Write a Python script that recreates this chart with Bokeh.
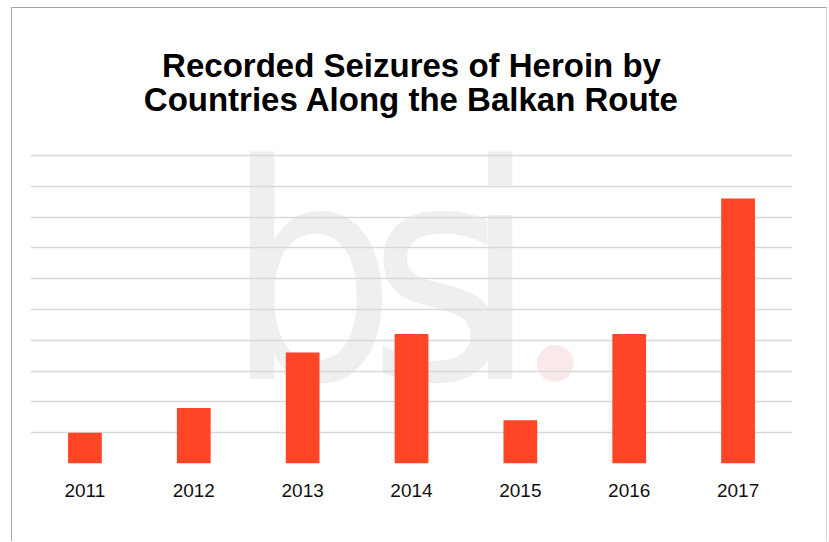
from bokeh.plotting import figure
from bokeh.models import Range1d, FixedTicker, ColumnDataSource
from bokeh.core.properties import value
from bokeh.embed import file_html
from bokeh.resources import INLINE

years = ["2011", "2012", "2013", "2014", "2015", "2016", "2017"]
seizures = [1.0, 1.8, 3.6, 4.2, 1.4, 4.2, 8.6]
grid_ticks = [0, 1, 2, 3, 4, 5, 6, 7, 8, 9, 10]
title_lines = ["Recorded Seizures of Heroin by", "Countries Along the Balkan Route"]

p = figure(x_range=years, y_range=Range1d(0, 14.77), width=816, height=534,
           output_backend="svg", toolbar_location=None,
           min_border_left=18, min_border_right=36, min_border_top=0,
           min_border_bottom=79, margin=(7, 0, 0, 11),
           styles={"border-left": "1px solid #a6a6a6", "border-top": "1px solid #a6a6a6",
                   "border-right": "1px solid #d6d6d6"})
p.title = None
p.outline_line_color = None
p.background_fill_color = "white"
p.border_fill_color = "white"

# title, drawn inside the frame above the grid
p.text(x=[3.5, 3.5], y=[12.92, 11.82], text=title_lines,
       text_font=value("Liberation Sans"), text_font_style="bold",
       text_font_size="33px", text_color="black",
       text_align="center", text_baseline="middle")

# watermark (decoration)
wm = ColumnDataSource(dict(x=[1.79, 3.1, 3.97], y=[6.1, 6.1, 6.1], t=["b", "s", "i"]))
p.text(x="x", y="y", text="t", source=wm,
       text_font=value("'Liberation Sans Narrow', 'DejaVu Sans Condensed', Roboto"),
       text_font_size="300px", text_color="#efefef", text_baseline="middle", level="image")
p.scatter(x=[4.82], y=[3.25], size=36, color="#fbe9e9", level="image")

p.vbar(x=years, top=seizures, width=0.31, color="#FF4526", line_color=None)

p.yaxis.visible = False
p.ygrid.ticker = FixedTicker(ticks=grid_ticks)
p.ygrid.grid_line_color = "#d9d9d9"
p.ygrid.grid_line_width = 1.5
p.xgrid.grid_line_color = None

p.xaxis.axis_line_color = None
p.xaxis.major_tick_line_color = None
p.xaxis.minor_tick_line_color = None
p.xaxis.major_label_text_font = "Liberation Sans"
p.xaxis.major_label_text_font_size = "19px"
p.xaxis.major_label_text_color = "#111111"
p.xaxis.major_label_standoff = 14

open("out.html", "w").write(file_html(p, INLINE))
